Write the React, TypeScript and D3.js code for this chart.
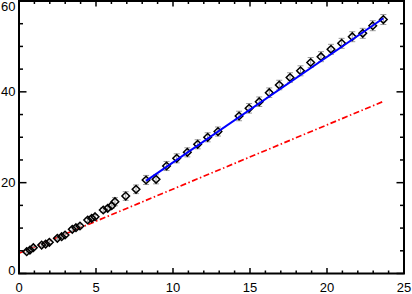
import React, { useEffect, useRef } from 'react';
import * as d3 from 'd3';

// measured points (x, y, error)
const xs = [
  0.5, 0.71, 0.93, 1.47, 1.73, 1.97, 2.49, 2.77, 2.99, 3.46, 3.7, 3.96,
  4.46, 4.72, 4.94, 5.47, 5.76, 6.02, 6.23, 6.93, 7.6,
  8.25, 8.9, 9.58, 10.24, 10.93, 11.6, 12.25, 12.92, 14.29, 14.94, 15.6,
  16.25, 16.9, 17.6, 18.28, 18.94, 19.61, 20.26, 20.95, 21.64, 22.32, 22.97, 23.66
];
const ys = [
  4.8, 5.17, 5.68, 6.27, 6.49, 6.87, 7.75, 8.1, 8.48, 9.73, 10.08, 10.46,
  11.78, 12.15, 12.5, 13.98, 14.35, 14.93, 15.81, 17.06, 18.54,
  20.59, 20.74, 23.67, 25.36, 26.68, 28.45, 29.99, 31.26, 34.68, 36.37, 37.82,
  39.81, 41.5, 43.15, 44.63, 46.46, 47.74, 49.36, 50.68, 52.14, 52.88, 54.56, 55.92
];
const errs = [
  0.3, 0.3, 0.3, 0.3, 0.3, 0.3, 0.35, 0.35, 0.35, 0.4, 0.4, 0.4,
  0.45, 0.45, 0.45, 0.5, 0.5, 0.55, 0.9, 0.95, 0.95,
  1.0, 1.0, 1.0, 1.0, 1.0, 1.0, 1.0, 1.0, 1.05, 1.05, 1.05,
  1.05, 1.05, 1.05, 1.1, 1.1, 1.1, 1.1, 1.1, 1.1, 1.1, 1.1, 1.1
];

// fitted lines
const fitX = [8.25, 23.66];
const fitY = [20.4, 56.2];
const refX = [0, 23.66];
const refY = [4.45, 37.9];

const xTicks = [0, 5, 10, 15, 20, 25];
const yTicks = [0, 20, 40, 60];

const App = () => {
  const svgRef = useRef<SVGSVGElement>(null);

  useEffect(() => {
    const svg = d3.select(svgRef.current);
    svg.selectAll('*').remove();

    const left = 19, right = 404, top = 1, bottom = 273.5;
    const x = d3.scaleLinear().domain([0, 25]).range([left, right]);
    const y = d3.scaleLinear().domain([0, 60]).range([bottom, top]);

    const line = d3.line<[number, number]>().x(d => x(d[0])).y(d => y(d[1]));

    // red reference line
    svg.append('path')
      .datum(refX.map((v, i) => [v, refY[i]] as [number, number]))
      .attr('d', line)
      .attr('fill', 'none')
      .attr('stroke', '#ff0000')
      .attr('stroke-width', 1.7)
      .attr('stroke-dasharray', '6,2.5,1.5,2.5');

    const pts = xs.map((v, i) => ({ x: v, y: ys[i], e: errs[i] }));

    // error bars
    const eb = svg.append('g').attr('stroke', '#9a9a9a').attr('stroke-width', 1);
    pts.forEach(p => {
      const cx = x(p.x);
      eb.append('line').attr('x1', cx).attr('x2', cx).attr('y1', y(p.y - p.e)).attr('y2', y(p.y + p.e));
      eb.append('line').attr('x1', cx - 3).attr('x2', cx + 3).attr('y1', y(p.y - p.e)).attr('y2', y(p.y - p.e));
      eb.append('line').attr('x1', cx - 3).attr('x2', cx + 3).attr('y1', y(p.y + p.e)).attr('y2', y(p.y + p.e));
    });

    // diamonds
    const r = 3.8;
    svg.append('g')
      .selectAll('path')
      .data(pts)
      .enter()
      .append('path')
      .attr('d', d => {
        const cx = x(d.x), cy = y(d.y);
        return `M${cx},${cy - r}L${cx + r},${cy}L${cx},${cy + r}L${cx - r},${cy}Z`;
      })
      .attr('fill', 'none')
      .attr('stroke', '#000')
      .attr('stroke-width', 1.5);

    // blue fit
    svg.append('path')
      .datum(fitX.map((v, i) => [v, fitY[i]] as [number, number]))
      .attr('d', line)
      .attr('fill', 'none')
      .attr('stroke', '#0000ff')
      .attr('stroke-width', 2);

    // frame + ticks
    const ax = svg.append('g').attr('stroke', '#000').attr('stroke-width', 1.5);
    d3.range(0, 26, 1).forEach(v => {
      const len = v % 5 === 0 ? 5.5 : 3;
      ax.append('line').attr('x1', x(v)).attr('x2', x(v)).attr('y1', bottom).attr('y2', bottom - len);
      ax.append('line').attr('x1', x(v)).attr('x2', x(v)).attr('y1', top).attr('y2', top + len);
    });
    d3.range(0, 61, 5).forEach(v => {
      const len = v % 20 === 0 ? 7.5 : 4;
      ax.append('line').attr('x1', left).attr('x2', left + len).attr('y1', y(v)).attr('y2', y(v));
      ax.append('line').attr('x1', right).attr('x2', right - len).attr('y1', y(v)).attr('y2', y(v));
    });
    svg.append('rect')
      .attr('x', left).attr('y', top)
      .attr('width', right - left).attr('height', bottom - top)
      .attr('fill', 'none').attr('stroke', '#000').attr('stroke-width', 2);

    // labels
    const font = '"Liberation Sans", Arial, sans-serif';
    svg.append('g').selectAll('text')
      .data(xTicks)
      .enter()
      .append('text')
      .attr('x', d => x(d))
      .attr('y', 291.5)
      .attr('text-anchor', 'middle')
      .style('font-family', font)
      .style('font-size', '13px')
      .text(d => d);

    svg.append('g').selectAll('text')
      .data(yTicks)
      .enter()
      .append('text')
      .attr('x', 15.5)
      .attr('y', d => {
        const shift = d === 0 ? -3 : d === 60 ? 5.5 : 0;
        return y(d) + shift + 4.6;
      })
      .attr('text-anchor', 'end')
      .style('font-family', font)
      .style('font-size', '13px')
      .text(d => d);
  }, []);

  return (
    <svg
      ref={svgRef}
      width={412}
      height={294}
      style={{ position: 'absolute', left: 0, top: 0, background: '#fff' }}
    />
  );
};

export default App;
